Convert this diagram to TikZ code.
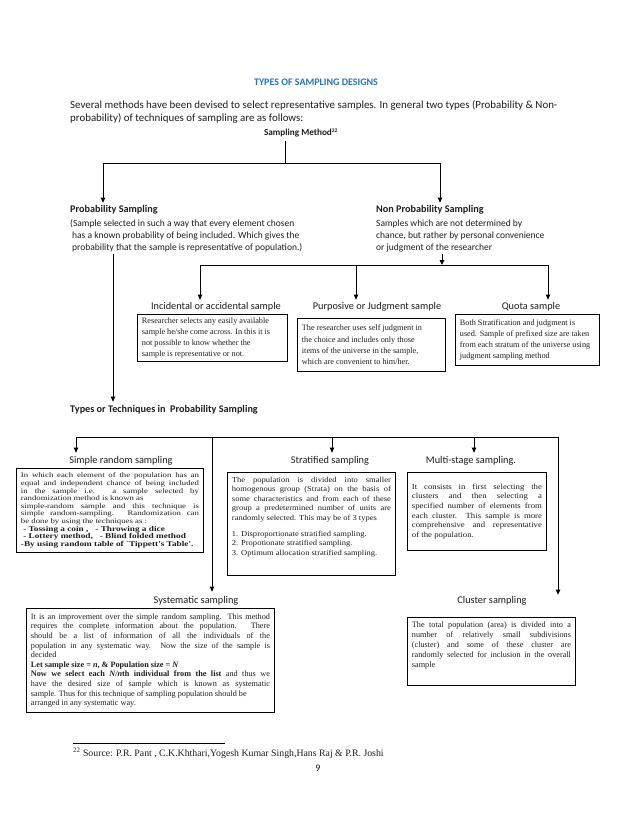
\documentclass[tikz,border=0pt]{standalone}
\usepackage{fontspec}
\setmainfont{Carlito}
\newfontfamily\tmsN{Liberation Serif}
\newfontfamily\tmsM[FakeStretch=1.12]{Liberation Serif}
\newfontfamily\tmsW[FakeStretch=1.25]{Liberation Serif}
\usetikzlibrary{arrows.meta}
\definecolor{ttlblue}{RGB}{38,118,186}
\definecolor{ink}{RGB}{30,30,30}
\newcommand\J[1]{\makebox[\bw][s]{#1}}
\newcommand\R[1]{\makebox[\bw][l]{#1}}
\begin{document}
\begin{tikzpicture}[x=1pt,y=-1pt,
  conn/.style={line width=0.9pt},
  arr/.style={line width=0.9pt,-{Triangle[length=5pt,width=4.5pt]}},
  txt/.style={inner sep=0pt,anchor=base west,text=ink,font=\fontsize{10.9}{13}\selectfont},
  dtxt/.style={txt,font=\fontsize{9.5}{11}\selectfont},
  btxt/.style={txt,font=\fontsize{10.2}{12}\selectfont\bfseries},
  lab/.style={inner sep=0pt,anchor=base,text=ink,font=\fontsize{10.3}{12}\selectfont},
  box/.style={draw,line width=0.9pt,anchor=north west,inner xsep=4pt,inner ysep=3pt,align=left,text=ink},
]
\useasboundingbox[fill=white] (0,0) rectangle (638,826);

% ---------- heading ----------
\node[inner sep=0pt,anchor=base,font=\fontsize{10}{12}\selectfont\bfseries,text=ttlblue] (title) at (316,86) {TYPES OF SAMPLING DESIGNS};
\node[txt] (intro1) at (70,109) {Several methods have been devised to select representative samples. In general two types (Probability \& Non-};
\node[txt] (intro2) at (70,122) {probability) of techniques of sampling are as follows:};
\node[inner sep=0pt,anchor=base,text=ink,font=\fontsize{9.2}{11}\selectfont\bfseries] (sm) at (301,136) {Sampling Method\textsuperscript{\fontsize{5.5}{6}\selectfont 22}};

% ---------- level 1 ----------
\node[btxt] (ps) at (70,213) {Probability Sampling};
\node[dtxt] (psd1) at (70,226) {(Sample selected in such a way that every element chosen};
\node[dtxt] (psd2) at (72,238) {has a known probability of being included. Which gives the};
\node[dtxt] (psd3) at (72,250) {probability that the sample is representative of population.)};
\node[btxt] (nps) at (376,213) {Non Probability Sampling};
\node[dtxt] (npsd1) at (376,226) {Samples which are not determined by};
\node[dtxt] (npsd2) at (376,238) {chance, but rather by personal convenience};
\node[dtxt] (npsd3) at (376,250) {or judgment of the researcher};

\coordinate (j0) at (285,163);
\coordinate (jL) at (103,163);
\coordinate (jR) at (440,163);
\draw[conn] ([yshift=-3pt]sm.south -| j0) -- (j0);
\draw[conn] (jL) -- (jR);
\draw[arr] (jL) -- ([yshift=3pt]jL |- ps.north);
\draw[arr] (jR) -- ([yshift=3pt]jR |- nps.north);

% ---------- non probability branch ----------
\coordinate (nvTop) at (442,254);
\coordinate (h2L) at (200,265);
\coordinate (h2M) at (356,265);
\coordinate (h2R) at (548,265);
\draw[arr] (nvTop) -- (nvTop |- h2L);
\draw[conn] (h2L) -- (h2R);

\node[lab] (inc) at (216,309) {Incidental or accidental sample};
\node[lab] (pur) at (377,309) {Purposive or Judgment sample};
\node[lab] (quo) at (531,309) {Quota sample};
\draw[arr] (h2L) -- ([yshift=2pt]h2L |- inc.north);
\draw[arr] (h2M) -- ([yshift=2pt]h2M |- pur.north);
\draw[arr] (h2R) -- ([yshift=2pt]h2R |- quo.north);

\def\bw{141pt}
\node[box,minimum width=150pt,minimum height=46pt,font=\tmsN\fontsize{8.2}{11.2}\selectfont] (b1) at (137,314)
 {\R{Researcher selects any easily available}\\ \R{sample he/she come across. In this it is}\\ \R{not possible to know whether the}\\ \R{sample is representative or not.}};
\def\bw{139pt}
\node[box,minimum width=148pt,minimum height=53pt,font=\tmsN\fontsize{8.2}{11.2}\selectfont] (b2) at (297,318)
 {\R{The researcher uses self judgment in}\\ \R{the choice and includes only those}\\ \R{items of the universe in the sample,}\\ \R{which are convenient to him/her.}};
\def\bw{135pt}
\node[box,minimum width=144pt,minimum height=51pt,font=\tmsN\fontsize{8.2}{11.2}\selectfont] (b3) at (455,314)
 {\R{Both Stratification and judgment is}\\ \R{used. Sample of prefixed size are taken}\\ \R{from each stratum of the universe using}\\ \R{judgment sampling method}};

% ---------- probability branch ----------
\coordinate (pvTop) at (113,254);
\node[btxt] (types) at (70,412) {Types or Techniques in\ \ Probability Sampling};
\draw[arr] (pvTop) -- ([yshift=3pt]pvTop |- types.north);

\coordinate (t2L) at (76,437);
\coordinate (t2A) at (212,437);
\coordinate (t2B) at (332,437);
\coordinate (t2C) at (474,437);
\coordinate (t2R) at (558,437);
\draw[conn] (t2L) -- (t2R);

\node[lab] (srs) at (121,463) {Simple random sampling};
\node[lab] (strat) at (330,463) {Stratified sampling};
\node[lab] (multi) at (471,463) {Multi-stage sampling.};
\node[lab] (sys) at (196,603) {Systematic sampling};
\node[lab] (clu) at (492,603) {Cluster sampling};

\draw[arr] (t2L) -- ([yshift=3pt]t2L |- srs.north);
\draw[arr] (t2B) -- ([yshift=3pt]t2B |- strat.north);
\draw[arr] (t2C) -- ([yshift=3pt]t2C |- multi.north);
\draw[arr] (t2A) -- ([yshift=4pt]t2A |- sys.north);
\draw[arr] (t2R) -- ([yshift=1pt]t2R |- clu.north);

\def\bw{178pt}
\node[box,minimum width=187pt,minimum height=84pt,font=\tmsW\fontsize{7}{7.6}\selectfont] (bsrs) at (16,468)
 {\J{In which each element of the population has an}\\
  \J{equal and independent chance of being included}\\
  \J{in the sample i.e. a sample selected by}\\
  \R{randomization method is known as}\\
  \J{simple-random sample and this technique is}\\
  \J{simple random-sampling. Randomization can}\\
  \R{be done by using the techniques as :}\\
  \R{\fontsize{7.4}{7.6}\selectfont\textbf{\ - Tossing a coin ,\ \ \ - Throwing a dice}}\\
  \R{\fontsize{7.4}{7.6}\selectfont\textbf{\ - Lottery method,\ \ \ - Blind folded method}}\\
  \R{\fontsize{7.4}{7.6}\selectfont\textbf{-By using random table of `Tippett's Table'.}}};

\def\bw{159pt}
\node[box,minimum width=168pt,minimum height=103pt,font=\tmsM\fontsize{7.6}{9.6}\selectfont] (bstrat) at (227,472)
 {\J{The population is divided into smaller}\\
  \J{homogenous group (Strata) on the basis of}\\
  \J{some characteristics and from each of these}\\
  \J{group a predetermined number of units are}\\
  \R{randomly selected. This may be of 3 types}\\[6pt]
  \R{1. Disproportionate stratified sampling.}\\
  \R{2. Propotionate stratified sampling.}\\
  \R{3. Optimum allocation stratified sampling.}\\[6pt]
  \R{}};

\def\bw{130pt}
\node[box,minimum width=139pt,minimum height=78pt,font=\tmsM\fontsize{7.8}{9.6}\selectfont] (bmulti) at (407,472)
 {\J{It consists in first selecting the}\\
  \J{clusters and then selecting a}\\
  \J{specified number of elements from}\\
  \J{each cluster. This sample is more}\\
  \J{comprehensive and representative}\\
  \R{of the population.}};

\def\bw{239pt}
\node[box,minimum width=248pt,minimum height=104pt,font=\tmsN\fontsize{8.2}{9.6}\selectfont] (bsys) at (26,608)
 {\J{It is an improvement over the simple random sampling. This method}\\
  \J{requires the complete information about the population. There}\\
  \J{should be a list of information of all the individuals of the}\\
  \J{population in any systematic way. Now the size of the sample is}\\
  \R{decided}\\
  \R{\textbf{Let sample size = \textit{n}, \& Population size = \textit{N}}}\\
  \J{\textbf{Now we select each \textit{N/n}th individual from the list} and thus we}\\
  \J{have the desired size of sample which is known as systematic}\\
  \R{sample. Thus for this technique of sampling population should be}\\
  \R{arranged in any systematic way.}};

\def\bw{159pt}
\node[box,minimum width=168pt,minimum height=68pt,font=\tmsN\fontsize{8.2}{9.8}\selectfont] (bclu) at (407,617)
 {\J{The total population (area) is divided into a}\\
  \J{number of relatively small subdivisions}\\
  \J{(cluster) and some of these cluster are}\\
  \J{randomly selected for inclusion in the overall}\\
  \R{sample}\\[4pt]
  \R{}};

% ---------- footnote ----------
\coordinate (fnL) at (73,743);
\coordinate (fnR) at (225,743);
\draw[line width=0.7pt] (fnL) -- (fnR);
\node[inner sep=0pt,anchor=base west,text=ink,font=\tmsN\fontsize{9.8}{11}\selectfont] (fn) at (73,756)
 {\textsuperscript{22} Source: P.R. Pant , C.K.Khthari,Yogesh Kumar Singh,Hans Raj \& P.R. Joshi};
\node[inner sep=0pt,anchor=base,text=ink,font=\fontsize{10}{12}\selectfont] (pg) at (318,771) {9};
\end{tikzpicture}
\end{document}
